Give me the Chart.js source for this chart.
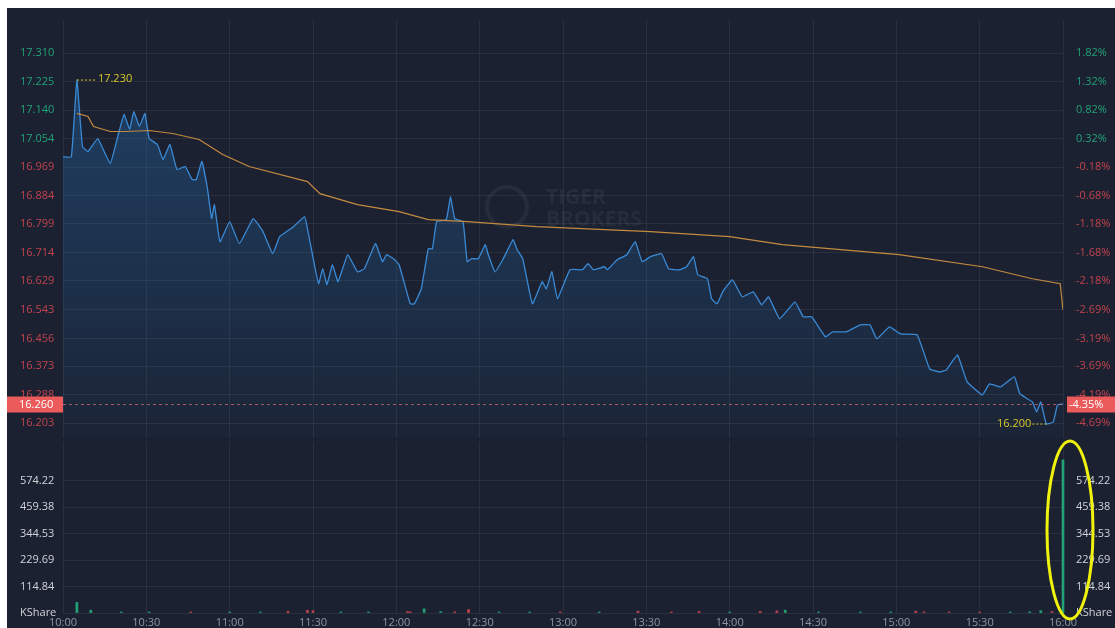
<!DOCTYPE html>
<html>
<head>
<meta charset="utf-8">
<script src="https://cdn.jsdelivr.net/npm/chart.js@4.4.1/dist/chart.umd.min.js"></script>
<style>
  body { margin: 0; background: #ffffff; }
  #wrap { position: absolute; left: 7px; top: 8px; width: 1108px; height: 620px; background: #1b2130; overflow: hidden; }
  #priceCanvas { position: absolute; left: 0; top: 0; }
  #volCanvas { position: absolute; left: 0; top: 422px; }
</style>
</head>
<body>
<div id="wrap">
  <canvas id="priceCanvas" width="1108" height="442"></canvas>
  <canvas id="volCanvas" width="1108" height="198"></canvas>
</div>
<script>
// minutes since 10:00
const priceTimes = [0, 3, 5, 7, 9, 12.5, 17, 20, 22, 24, 25.5, 27.5, 29.5, 31, 34, 36, 38.5, 41, 44, 46.5, 48, 50, 52, 53.5, 54.5, 56.5, 60, 63.5, 68.5, 72, 75.5, 78, 83, 87, 88, 90.5, 92, 93.5, 95, 97, 99, 102.5, 106, 108.5, 112.5, 115, 116.5, 119, 121, 125, 126.5, 129, 131.5, 133, 134.5, 138, 139.5, 141, 144, 145.5, 147, 149.5, 152, 153, 155.5, 158.5, 162, 163.5, 165.5, 169, 172.5, 174, 176, 178, 182.5, 187, 189, 191, 195, 196, 199.5, 203, 206, 208.5, 211.5, 215.5, 218, 222, 224.5, 227, 228.5, 232, 233.5, 235.5, 237.5, 241, 244.5, 248.5, 251.5, 254, 258, 263.5, 266.5, 269.5, 274.5, 277, 282, 287, 290.5, 293, 297.5, 301.5, 307.5, 312, 315.5, 318, 322, 325.5, 331, 333.5, 337.5, 342.5, 344.5, 349, 350.5, 352, 354, 356.5, 358, 360];
const prices = [17.000, 17.000, 17.230, 17.031, 17.016, 17.055, 16.980, 17.070, 17.127, 17.082, 17.136, 17.091, 17.130, 17.055, 17.037, 16.992, 17.037, 16.962, 16.971, 16.932, 16.932, 16.986, 16.905, 16.815, 16.857, 16.746, 16.806, 16.740, 16.815, 16.776, 16.710, 16.761, 16.791, 16.821, 16.785, 16.677, 16.620, 16.665, 16.617, 16.677, 16.626, 16.707, 16.656, 16.665, 16.740, 16.686, 16.707, 16.695, 16.677, 16.560, 16.560, 16.605, 16.725, 16.725, 16.806, 16.812, 16.881, 16.815, 16.806, 16.686, 16.695, 16.695, 16.737, 16.710, 16.656, 16.695, 16.752, 16.722, 16.695, 16.560, 16.626, 16.605, 16.656, 16.575, 16.662, 16.662, 16.680, 16.662, 16.671, 16.662, 16.692, 16.707, 16.746, 16.686, 16.701, 16.710, 16.665, 16.662, 16.671, 16.701, 16.647, 16.635, 16.575, 16.560, 16.596, 16.632, 16.581, 16.596, 16.557, 16.581, 16.515, 16.566, 16.521, 16.521, 16.461, 16.476, 16.476, 16.497, 16.497, 16.455, 16.491, 16.470, 16.467, 16.365, 16.356, 16.362, 16.407, 16.326, 16.287, 16.320, 16.311, 16.341, 16.290, 16.266, 16.236, 16.266, 16.200, 16.206, 16.257, 16.260];

const avgTimes = [5, 9, 11, 17, 23, 31, 39.5, 49, 57.5, 67, 88, 92.5, 106, 121, 131.5, 145.5, 170.5, 211.5, 240, 259, 301, 331, 349, 359, 360];
const avgPrices = [17.130, 17.121, 17.091, 17.076, 17.076, 17.079, 17.070, 17.052, 17.007, 16.971, 16.926, 16.890, 16.857, 16.836, 16.812, 16.806, 16.791, 16.776, 16.761, 16.737, 16.707, 16.671, 16.635, 16.620, 16.542];

const volTimes = [5, 10, 21, 31, 46, 60, 71, 81, 88, 90, 100, 110, 124, 125, 130, 136, 141, 146, 157, 168, 179, 193, 207, 219, 229, 240, 251, 257, 260, 272, 287, 298, 307, 310, 319, 330, 341, 348, 352, 356, 360];
const volumes = [46, 12, 4, 3, 3, 3, 4, 8, 12, 10, 4, 3, 6, 5, 18, 6, 5, 15, 3, 3, 3, 3, 8, 4, 7, 3, 7, 9, 12, 3, 3, 4, 8, 5, 3, 4, 3, 5, 10, 6, 665];
const volUp = [1, 1, 1, 1, 0, 1, 1, 0, 0, 0, 1, 1, 0, 0, 1, 1, 0, 0, 1, 1, 0, 1, 0, 0, 0, 1, 0, 0, 1, 1, 1, 1, 0, 0, 0, 0, 1, 1, 1, 0, 1];

const prevClose = 17.00;
const priceTickLabels = ['17.310', '17.225', '17.140', '17.054', '16.969', '16.884', '16.799', '16.714', '16.629', '16.543', '16.456', '16.373', '16.288', '16.203'];
const pctTickLabels = ['1.82%', '1.32%', '0.82%', '0.32%', '-0.18%', '-0.68%', '-1.18%', '-1.68%', '-2.18%', '-2.69%', '-3.19%', '-3.69%', '-4.19%', '-4.69%'];
const volTickValues = [0, 114.84, 229.69, 344.53, 459.38, 574.22];
const volTickLabels = ['KShare', '114.84', '229.69', '344.53', '459.38', '574.22'];
const timeLabels = ['10:00', '10:30', '11:00', '11:30', '12:00', '12:30', '13:00', '13:30', '14:00', '14:30', '15:00', '15:30', '16:00'];
const lastPrice = 16.260;
const lastPct = '-4.35%';

const priceTickValues = priceTickLabels.map(Number);

const GREEN = '#22a277';
const RED = '#c2434f';
const GRID = 'rgba(255,255,255,0.065)';
const FONT = { family: "'Open Sans', 'Noto Sans', sans-serif", size: 11 };

Chart.defaults.animation = false;
Chart.defaults.devicePixelRatio = 1;

const LEFT_PAD = 13;
const LEFT_W = 43;
const RIGHT_W = 52;

function xScaleOpts(showLabels) {
  return {
    type: 'linear', min: 0, max: 360, offset: false,
    border: { display: false },
    grid: { color: GRID, drawTicks: false, offset: false },
    ticks: {
      display: showLabels, stepSize: 30, autoSkip: false, maxRotation: 0, padding: 3,
      color: '#8d95a3', font: FONT,
      callback: (v) => timeLabels[Math.round(v / 30)]
    },
    afterFit: (s) => { s.height = showLabels ? 15 : 0; }
  };
}

// price chart overlays: last price line + boxes, high/low markers, watermark
const priceOverlay = {
  id: 'priceOverlay',
  beforeDatasetsDraw(chart) {
    const ctx = chart.ctx;
    ctx.save();
    ctx.fillStyle = 'rgba(255,255,255,0.05)';
    ctx.strokeStyle = 'rgba(255,255,255,0.05)';
    ctx.lineWidth = 4;
    ctx.beginPath();
    ctx.arc(500, 199, 20, 0, Math.PI * 2);
    ctx.stroke();
    ctx.font = "bold 21px 'Open Sans', sans-serif";
    ctx.textBaseline = 'middle';
    ctx.fillText('TIGER', 539, 190);
    ctx.fillText('BROKERS', 539, 212);
    ctx.restore();
  },
  afterDraw(chart) {
    const ctx = chart.ctx, a = chart.chartArea;
    const x = chart.scales.x, y = chart.scales.y;
    ctx.save();
    // last price dashed line
    const ly = Math.round(y.getPixelForValue(lastPrice)) + 0.5;
    ctx.strokeStyle = 'rgba(215,100,120,0.75)';
    ctx.setLineDash([3, 3]);
    ctx.lineWidth = 1;
    ctx.beginPath(); ctx.moveTo(a.left, ly); ctx.lineTo(a.right, ly); ctx.stroke();
    ctx.setLineDash([]);
    // boxes
    ctx.fillStyle = '#ec5b5b';
    ctx.fillRect(0, ly - 8, a.left, 16);
    ctx.fillRect(a.right + 4, ly - 8, 48, 16);
    ctx.fillStyle = '#ffffff';
    ctx.font = "11px 'Open Sans', sans-serif";
    ctx.textBaseline = 'middle';
    ctx.textAlign = 'left';
    ctx.fillText(lastPrice.toFixed(3), 12, ly);
    ctx.fillText(lastPct, a.right + 6, ly);
    // high / low markers
    let hi = 0, lo = 0;
    prices.forEach((p, i) => { if (p > prices[hi]) hi = i; if (p < prices[lo]) lo = i; });
    ctx.strokeStyle = '#d9c82a';
    ctx.fillStyle = '#d9c82a';
    ctx.setLineDash([2, 2]);
    const hx = x.getPixelForValue(priceTimes[hi]), hy = y.getPixelForValue(prices[hi]);
    ctx.beginPath(); ctx.moveTo(hx, hy); ctx.lineTo(hx + 20, hy); ctx.stroke();
    const lx = x.getPixelForValue(priceTimes[lo]), lyy = y.getPixelForValue(prices[lo]);
    ctx.beginPath(); ctx.moveTo(lx, lyy); ctx.lineTo(lx - 14, lyy); ctx.stroke();
    ctx.setLineDash([]);
    ctx.textAlign = 'left';
    ctx.fillText(prices[hi].toFixed(3), hx + 21, hy - 1);
    ctx.textAlign = 'right';
    ctx.fillText(prices[lo].toFixed(3), lx - 15, lyy);
    ctx.restore();
  }
};

const priceCtx = document.getElementById('priceCanvas').getContext('2d');
const priceChart = new Chart(priceCtx, {
  type: 'line',
  data: {
    datasets: [
      {
        label: 'Avg',
        data: avgTimes.map((t, i) => ({ x: t, y: avgPrices[i] })),
        borderColor: '#c48a40',
        borderWidth: 1.2,
        pointRadius: 0,
        fill: false,
        tension: 0
      },
      {
        label: 'Price',
        data: priceTimes.map((t, i) => ({ x: t, y: prices[i] })),
        borderColor: '#3a8ad6',
        borderWidth: 1.3,
        pointRadius: 0,
        tension: 0.1,
        fill: 'start',
        backgroundColor: (c) => {
          const a = c.chart.chartArea;
          if (!a) return 'rgba(40,110,180,0.2)';
          const g = c.chart.ctx.createLinearGradient(0, a.top + 60, 0, a.bottom);
          g.addColorStop(0, 'rgba(38,105,170,0.42)');
          g.addColorStop(1, 'rgba(38,105,170,0.05)');
          return g;
        }
      }
    ]
  },
  options: {
    responsive: false,
    maintainAspectRatio: false,
    layout: { padding: { top: 8, bottom: 0, left: LEFT_PAD, right: 0 } },
    plugins: { legend: { display: false }, tooltip: { enabled: false } },
    scales: {
      x: xScaleOpts(false),
      y: {
        position: 'left', min: 16.157, max: 17.411,
        border: { display: false },
        grid: { color: GRID, drawTicks: false },
        afterBuildTicks: (s) => { s.ticks = priceTickValues.map(v => ({ value: v })); },
        afterFit: (s) => { s.width = LEFT_W; },
        ticks: {
          crossAlign: 'far', padding: 0, font: FONT,
          callback: (v, i) => priceTickLabels[i],
          color: (c) => priceTickValues[c.index] > prevClose ? GREEN : RED
        }
      },
      yR: {
        position: 'right', min: 16.157, max: 17.411,
        border: { display: false },
        grid: { display: false },
        afterBuildTicks: (s) => { s.ticks = priceTickValues.map(v => ({ value: v })); },
        afterFit: (s) => { s.width = RIGHT_W; },
        ticks: {
          padding: 5, font: FONT,
          callback: (v, i) => pctTickLabels[i],
          color: (c) => priceTickValues[c.index] > prevClose ? GREEN : RED
        }
      }
    }
  },
  plugins: [priceOverlay]
});

// volume chart
const volOverlay = {
  id: 'volOverlay',
  afterDraw(chart) {
    const ctx = chart.ctx;
    const cx = chart.scales.x.getPixelForValue(volTimes[volTimes.length - 1]) + 7;
    ctx.save();
    ctx.strokeStyle = '#eef20c';
    ctx.lineWidth = 3;
    ctx.beginPath();
    ctx.ellipse(cx, 100, 23, 89, 0, 0, Math.PI * 2);
    ctx.stroke();
    ctx.restore();
  }
};

const volCtx = document.getElementById('volCanvas').getContext('2d');
const volChart = new Chart(volCtx, {
  type: 'bar',
  data: {
    datasets: [{
      label: 'Volume',
      data: volTimes.map((t, i) => ({ x: t, y: volumes[i] })),
      backgroundColor: volUp.map(u => u ? GREEN : RED),
      barThickness: 2,
      minBarLength: 1,
      clip: false
    }]
  },
  options: {
    responsive: false,
    maintainAspectRatio: false,
    layout: { padding: { top: 6, bottom: 0, left: LEFT_PAD, right: 0 } },
    plugins: { legend: { display: false }, tooltip: { enabled: false } },
    scales: {
      x: xScaleOpts(true),
      y: {
        position: 'left', min: 0, max: 744.6,
        border: { display: false },
        grid: { color: GRID, drawTicks: false },
        afterBuildTicks: (s) => { s.ticks = volTickValues.map(v => ({ value: v })); },
        afterFit: (s) => { s.width = LEFT_W; },
        ticks: {
          crossAlign: 'far', padding: 0, color: '#cfd3da', font: FONT,
          callback: (v, i) => volTickLabels[i]
        }
      },
      yR: {
        position: 'right', min: 0, max: 744.6,
        border: { display: false },
        grid: { display: false },
        afterBuildTicks: (s) => { s.ticks = volTickValues.map(v => ({ value: v })); },
        afterFit: (s) => { s.width = RIGHT_W; },
        ticks: {
          padding: 5, color: '#cfd3da', font: FONT,
          callback: (v, i) => volTickLabels[i]
        }
      }
    }
  },
  plugins: [volOverlay]
});
</script>
</body>
</html>
